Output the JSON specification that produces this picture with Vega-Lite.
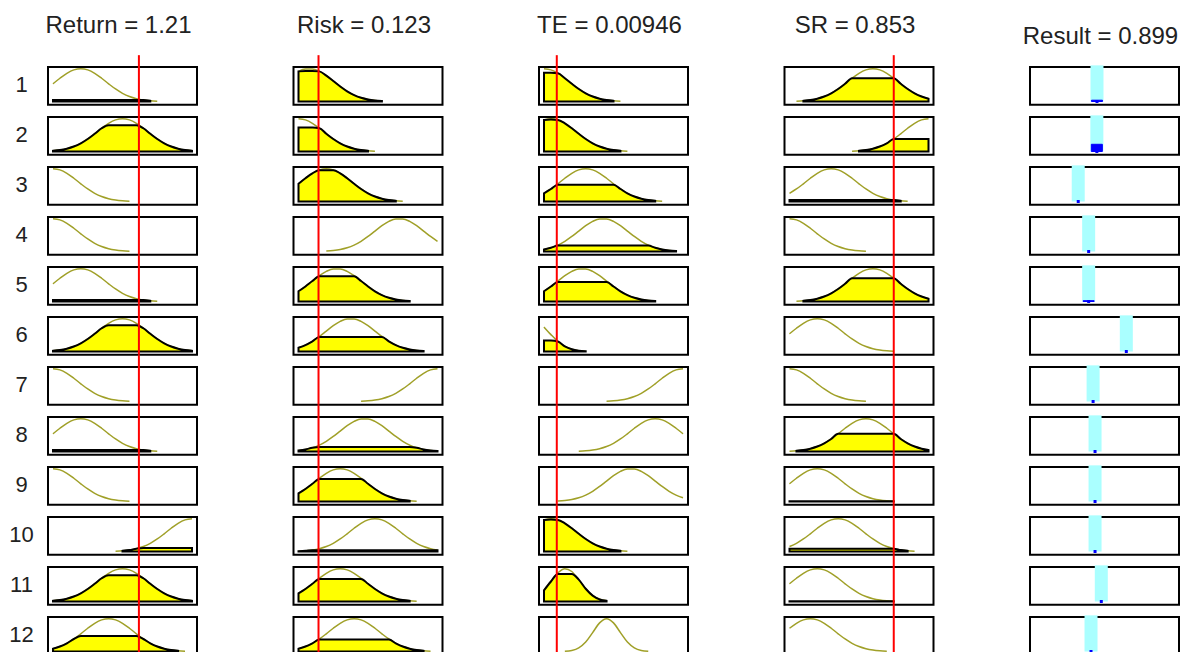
{
"$schema": "https://vega.github.io/schema/vega-lite/v6.json",
"background": "white",
"padding": {"left": 8, "top": 13, "right": 0, "bottom": 0},
"config": {
 "view": {"stroke": "black", "strokeWidth": 2}
},
"datasets": {
"mf": [
{"r":1,"v":"Return = 1.21","in":0.618,"x":[0,0.05,0.1,0.15,0.2,0.25,0.3,0.35,0.4,0.45,0.5,0.55,0.6,0.65,0.7,0.75,0.8,0.85,0.9,0.95,1],"mf":[0.539,0.707,0.857,0.962,1,0.962,0.857,0.707,0.539,0.381,0.249,0.151,0.085,0.044,0.021,0.009],"fill":[0.045,0.045,0.045,0.045,0.045,0.045,0.045,0.045,0.045,0.045,0.045,0.045,0.045,0.044,0.021]},
{"r":2,"v":"Return = 1.21","in":0.618,"x":[0,0.05,0.1,0.15,0.2,0.25,0.3,0.35,0.4,0.45,0.5,0.55,0.6,0.65,0.7,0.75,0.8,0.85,0.9,0.95,1],"mf":[0.021,0.044,0.085,0.151,0.249,0.381,0.539,0.707,0.857,0.962,1,0.962,0.857,0.707,0.539,0.381,0.249,0.151,0.085,0.044,0.021],"fill":[0.021,0.044,0.085,0.151,0.249,0.381,0.539,0.707,0.8,0.8,0.8,0.8,0.8,0.707,0.539,0.381,0.249,0.151,0.085,0.044,0.021]},
{"r":3,"v":"Return = 1.21","in":0.618,"x":[0,0.05,0.1,0.15,0.2,0.25,0.3,0.35,0.4,0.45,0.5,0.55,0.6,0.65,0.7,0.75,0.8,0.85,0.9,0.95,1],"mf":[1,0.962,0.857,0.707,0.539,0.381,0.249,0.151,0.085,0.044,0.021,0.009],"fill":[]},
{"r":4,"v":"Return = 1.21","in":0.618,"x":[0,0.05,0.1,0.15,0.2,0.25,0.3,0.35,0.4,0.45,0.5,0.55,0.6,0.65,0.7,0.75,0.8,0.85,0.9,0.95,1],"mf":[1,0.962,0.857,0.707,0.539,0.381,0.249,0.151,0.085,0.044,0.021,0.009],"fill":[]},
{"r":5,"v":"Return = 1.21","in":0.618,"x":[0,0.05,0.1,0.15,0.2,0.25,0.3,0.35,0.4,0.45,0.5,0.55,0.6,0.65,0.7,0.75,0.8,0.85,0.9,0.95,1],"mf":[0.539,0.707,0.857,0.962,1,0.962,0.857,0.707,0.539,0.381,0.249,0.151,0.085,0.044,0.021,0.009],"fill":[0.045,0.045,0.045,0.045,0.045,0.045,0.045,0.045,0.045,0.045,0.045,0.045,0.045,0.044,0.021]},
{"r":6,"v":"Return = 1.21","in":0.618,"x":[0,0.05,0.1,0.15,0.2,0.25,0.3,0.35,0.4,0.45,0.5,0.55,0.6,0.65,0.7,0.75,0.8,0.85,0.9,0.95,1],"mf":[0.021,0.044,0.085,0.151,0.249,0.381,0.539,0.707,0.857,0.962,1,0.962,0.857,0.707,0.539,0.381,0.249,0.151,0.085,0.044,0.021],"fill":[0.021,0.044,0.085,0.151,0.249,0.381,0.539,0.707,0.8,0.8,0.8,0.8,0.8,0.707,0.539,0.381,0.249,0.151,0.085,0.044,0.021]},
{"r":7,"v":"Return = 1.21","in":0.618,"x":[0,0.05,0.1,0.15,0.2,0.25,0.3,0.35,0.4,0.45,0.5,0.55,0.6,0.65,0.7,0.75,0.8,0.85,0.9,0.95,1],"mf":[1,0.962,0.857,0.707,0.539,0.381,0.249,0.151,0.085,0.044,0.021,0.009],"fill":[]},
{"r":8,"v":"Return = 1.21","in":0.618,"x":[0,0.05,0.1,0.15,0.2,0.25,0.3,0.35,0.4,0.45,0.5,0.55,0.6,0.65,0.7,0.75,0.8,0.85,0.9,0.95,1],"mf":[0.539,0.707,0.857,0.962,1,0.962,0.857,0.707,0.539,0.381,0.249,0.151,0.085,0.044,0.021,0.009],"fill":[0.045,0.045,0.045,0.045,0.045,0.045,0.045,0.045,0.045,0.045,0.045,0.045,0.045,0.044,0.021]},
{"r":9,"v":"Return = 1.21","in":0.618,"x":[0,0.05,0.1,0.15,0.2,0.25,0.3,0.35,0.4,0.45,0.5,0.55,0.6,0.65,0.7,0.75,0.8,0.85,0.9,0.95,1],"mf":[1,0.962,0.857,0.707,0.539,0.381,0.249,0.151,0.085,0.044,0.021,0.009],"fill":[]},
{"r":10,"v":"Return = 1.21","in":0.618,"x":[0,0.05,0.1,0.15,0.2,0.25,0.3,0.35,0.4,0.45,0.5,0.55,0.6,0.65,0.7,0.75,0.8,0.85,0.9,0.95,1],"mf":[null,null,null,null,null,null,null,null,null,0.009,0.021,0.044,0.085,0.151,0.249,0.381,0.539,0.707,0.857,0.962,1],"fill":[null,null,null,null,null,null,null,null,null,null,0.021,0.044,0.085,0.108,0.108,0.108,0.108,0.108,0.108,0.108,0.108]},
{"r":11,"v":"Return = 1.21","in":0.618,"x":[0,0.05,0.1,0.15,0.2,0.25,0.3,0.35,0.4,0.45,0.5,0.55,0.6,0.65,0.7,0.75,0.8,0.85,0.9,0.95,1],"mf":[0.021,0.044,0.085,0.151,0.249,0.381,0.539,0.707,0.857,0.962,1,0.962,0.857,0.707,0.539,0.381,0.249,0.151,0.085,0.044,0.021],"fill":[0.021,0.044,0.085,0.151,0.249,0.381,0.539,0.707,0.8,0.8,0.8,0.8,0.8,0.707,0.539,0.381,0.249,0.151,0.085,0.044,0.021]},
{"r":12,"v":"Return = 1.21","in":0.618,"x":[0,0.05,0.1,0.15,0.2,0.25,0.3,0.35,0.4,0.45,0.5,0.55,0.6,0.65,0.7,0.75,0.8,0.85,0.9,0.95,1],"mf":[0.085,0.151,0.249,0.381,0.539,0.707,0.857,0.962,1,0.962,0.857,0.707,0.539,0.381,0.249,0.151,0.085,0.044,0.021,0.009],"fill":[0.085,0.151,0.249,0.381,0.47,0.47,0.47,0.47,0.47,0.47,0.47,0.47,0.47,0.381,0.249,0.151,0.085,0.044,0.021]},

{"r":1,"v":"Risk = 0.123","in":0.144,"x":[0,0.05,0.1,0.15,0.2,0.25,0.3,0.35,0.4,0.45,0.5,0.55,0.6,0.65,0.7,0.75,0.8,0.85,0.9,0.95,1],"mf":[0.917,0.99,0.99,0.917,0.786,0.623,0.458,0.311,0.196,0.114,0.062,0.031,0.014],"fill":[0.917,0.929,0.929,0.917,0.786,0.623,0.458,0.311,0.196,0.114,0.062,0.031,0.014]},
{"r":2,"v":"Risk = 0.123","in":0.144,"x":[0,0.05,0.1,0.15,0.2,0.25,0.3,0.35,0.4,0.45,0.5,0.55,0.6,0.65,0.7,0.75,0.8,0.85,0.9,0.95,1],"mf":[1,0.962,0.857,0.707,0.539,0.381,0.249,0.151,0.085,0.044,0.021,0.009],"fill":[0.727,0.727,0.727,0.707,0.539,0.381,0.249,0.151,0.085,0.044,0.021]},
{"r":3,"v":"Risk = 0.123","in":0.144,"x":[0,0.05,0.1,0.15,0.2,0.25,0.3,0.35,0.4,0.45,0.5,0.55,0.6,0.65,0.7,0.75,0.8,0.85,0.9,0.95,1],"mf":[0.539,0.707,0.857,0.962,1,0.962,0.857,0.707,0.539,0.381,0.249,0.151,0.085,0.044,0.021,0.009],"fill":[0.539,0.707,0.857,0.953,0.953,0.953,0.857,0.707,0.539,0.381,0.249,0.151,0.085,0.044,0.021]},
{"r":4,"v":"Risk = 0.123","in":0.144,"x":[0,0.05,0.1,0.15,0.2,0.25,0.3,0.35,0.4,0.45,0.5,0.55,0.6,0.65,0.7,0.75,0.8,0.85,0.9,0.95,1],"mf":[null,null,null,null,0.014,0.031,0.062,0.114,0.196,0.311,0.458,0.623,0.786,0.917,0.99,0.99,0.917,0.786,0.623,0.458,0.311],"fill":[]},
{"r":5,"v":"Risk = 0.123","in":0.144,"x":[0,0.05,0.1,0.15,0.2,0.25,0.3,0.35,0.4,0.45,0.5,0.55,0.6,0.65,0.7,0.75,0.8,0.85,0.9,0.95,1],"mf":[0.311,0.458,0.623,0.786,0.917,0.99,0.99,0.917,0.786,0.623,0.458,0.311,0.196,0.114,0.062,0.031,0.014],"fill":[0.311,0.458,0.623,0.767,0.767,0.767,0.767,0.767,0.767,0.623,0.458,0.311,0.196,0.114,0.062,0.031,0.014]},
{"r":6,"v":"Risk = 0.123","in":0.144,"x":[0,0.05,0.1,0.15,0.2,0.25,0.3,0.35,0.4,0.45,0.5,0.55,0.6,0.65,0.7,0.75,0.8,0.85,0.9,0.95,1],"mf":[0.114,0.196,0.311,0.458,0.623,0.786,0.917,0.99,0.99,0.917,0.786,0.623,0.458,0.311,0.196,0.114,0.062,0.031,0.014],"fill":[0.114,0.196,0.311,0.439,0.439,0.439,0.439,0.439,0.439,0.439,0.439,0.439,0.439,0.311,0.196,0.114,0.062,0.031,0.014]},
{"r":7,"v":"Risk = 0.123","in":0.144,"x":[0,0.05,0.1,0.15,0.2,0.25,0.3,0.35,0.4,0.45,0.5,0.55,0.6,0.65,0.7,0.75,0.8,0.85,0.9,0.95,1],"mf":[null,null,null,null,null,null,null,null,null,0.009,0.021,0.044,0.085,0.151,0.249,0.381,0.539,0.707,0.857,0.962,1],"fill":[]},
{"r":8,"v":"Risk = 0.123","in":0.144,"x":[0,0.05,0.1,0.15,0.2,0.25,0.3,0.35,0.4,0.45,0.5,0.55,0.6,0.65,0.7,0.75,0.8,0.85,0.9,0.95,1],"mf":[0.031,0.062,0.114,0.196,0.311,0.458,0.623,0.786,0.917,0.99,0.99,0.917,0.786,0.623,0.458,0.311,0.196,0.114,0.062,0.031,0.014],"fill":[0.031,0.062,0.114,0.14,0.14,0.14,0.14,0.14,0.14,0.14,0.14,0.14,0.14,0.14,0.14,0.14,0.14,0.114,0.062,0.031,0.014]},
{"r":9,"v":"Risk = 0.123","in":0.144,"x":[0,0.05,0.1,0.15,0.2,0.25,0.3,0.35,0.4,0.45,0.5,0.55,0.6,0.65,0.7,0.75,0.8,0.85,0.9,0.95,1],"mf":[0.249,0.381,0.539,0.707,0.857,0.962,1,0.962,0.857,0.707,0.539,0.381,0.249,0.151,0.085,0.044,0.021,0.009],"fill":[0.249,0.381,0.539,0.687,0.687,0.687,0.687,0.687,0.687,0.687,0.539,0.381,0.249,0.151,0.085,0.044,0.021]},
{"r":10,"v":"Risk = 0.123","in":0.144,"x":[0,0.05,0.1,0.15,0.2,0.25,0.3,0.35,0.4,0.45,0.5,0.55,0.6,0.65,0.7,0.75,0.8,0.85,0.9,0.95,1],"mf":[0.009,0.021,0.044,0.085,0.151,0.249,0.381,0.539,0.707,0.857,0.962,1,0.962,0.857,0.707,0.539,0.381,0.249,0.151,0.085,0.044],"fill":[0.009,0.021,0.04,0.04,0.04,0.04,0.04,0.04,0.04,0.04,0.04,0.04,0.04,0.04,0.04,0.04,0.04,0.04,0.04,0.04,0.04]},
{"r":11,"v":"Risk = 0.123","in":0.144,"x":[0,0.05,0.1,0.15,0.2,0.25,0.3,0.35,0.4,0.45,0.5,0.55,0.6,0.65,0.7,0.75,0.8,0.85,0.9,0.95,1],"mf":[0.249,0.381,0.539,0.707,0.857,0.962,1,0.962,0.857,0.707,0.539,0.381,0.249,0.151,0.085,0.044,0.021,0.009],"fill":[0.249,0.381,0.539,0.687,0.687,0.687,0.687,0.687,0.687,0.687,0.539,0.381,0.249,0.151,0.085,0.044,0.021]},
{"r":12,"v":"Risk = 0.123","in":0.144,"x":[0,0.05,0.1,0.15,0.2,0.25,0.3,0.35,0.4,0.45,0.5,0.55,0.6,0.65,0.7,0.75,0.8,0.85,0.9,0.95,1],"mf":[0.085,0.151,0.249,0.381,0.539,0.707,0.857,0.962,1,0.962,0.857,0.707,0.539,0.381,0.249,0.151,0.085,0.044,0.021,0.009],"fill":[0.085,0.151,0.249,0.364,0.364,0.364,0.364,0.364,0.364,0.364,0.364,0.364,0.364,0.364,0.249,0.151,0.085,0.044,0.021]},

{"r":1,"v":"TE = 0.00946","in":0.092,"x":[0,0.05,0.1,0.15,0.2,0.25,0.3,0.35,0.4,0.45,0.5,0.55,0.6,0.65,0.7,0.75,0.8,0.85,0.9,0.95,1],"mf":[1,0.962,0.857,0.707,0.539,0.381,0.249,0.151,0.085,0.044,0.021,0.009],"fill":[0.878,0.878,0.857,0.707,0.539,0.381,0.249,0.151,0.085,0.044,0.021]},
{"r":2,"v":"TE = 0.00946","in":0.092,"x":[0,0.05,0.1,0.15,0.2,0.25,0.3,0.35,0.4,0.45,0.5,0.55,0.6,0.65,0.7,0.75,0.8,0.85,0.9,0.95,1],"mf":[0.962,1,0.962,0.857,0.707,0.539,0.381,0.249,0.151,0.085,0.044,0.021,0.009],"fill":[0.962,0.973,0.962,0.857,0.707,0.539,0.381,0.249,0.151,0.085,0.044,0.021]},
{"r":3,"v":"TE = 0.00946","in":0.092,"x":[0,0.05,0.1,0.15,0.2,0.25,0.3,0.35,0.4,0.45,0.5,0.55,0.6,0.65,0.7,0.75,0.8,0.85,0.9,0.95,1],"mf":[0.249,0.381,0.539,0.707,0.857,0.962,1,0.962,0.857,0.707,0.539,0.381,0.249,0.151,0.085,0.044,0.021,0.009],"fill":[0.249,0.381,0.513,0.513,0.513,0.513,0.513,0.513,0.513,0.513,0.513,0.381,0.249,0.151,0.085,0.044,0.021]},
{"r":4,"v":"TE = 0.00946","in":0.092,"x":[0,0.05,0.1,0.15,0.2,0.25,0.3,0.35,0.4,0.45,0.5,0.55,0.6,0.65,0.7,0.75,0.8,0.85,0.9,0.95,1],"mf":[0.062,0.114,0.196,0.311,0.458,0.623,0.786,0.917,0.99,0.99,0.917,0.786,0.623,0.458,0.311,0.196,0.114,0.062,0.031,0.014],"fill":[0.062,0.114,0.181,0.181,0.181,0.181,0.181,0.181,0.181,0.181,0.181,0.181,0.181,0.181,0.181,0.181,0.114,0.062,0.031,0.014]},
{"r":5,"v":"TE = 0.00946","in":0.092,"x":[0,0.05,0.1,0.15,0.2,0.25,0.3,0.35,0.4,0.45,0.5,0.55,0.6,0.65,0.7,0.75,0.8,0.85,0.9,0.95,1],"mf":[0.311,0.458,0.623,0.786,0.917,0.99,0.99,0.917,0.786,0.623,0.458,0.311,0.196,0.114,0.062,0.031,0.014],"fill":[0.311,0.458,0.596,0.596,0.596,0.596,0.596,0.596,0.596,0.596,0.458,0.311,0.196,0.114,0.062,0.031,0.014]},
{"r":6,"v":"TE = 0.00946","in":0.092,"x":[0,0.05,0.1,0.15,0.2,0.25,0.3,0.35,0.4,0.45,0.5,0.55,0.6,0.65,0.7,0.75,0.8,0.85,0.9,0.95,1],"mf":[0.744,0.514,0.306,0.157,0.07,0.027,0.009],"fill":[0.336,0.336,0.306,0.157,0.07,0.027,0.009]},
{"r":7,"v":"TE = 0.00946","in":0.092,"x":[0,0.05,0.1,0.15,0.2,0.25,0.3,0.35,0.4,0.45,0.5,0.55,0.6,0.65,0.7,0.75,0.8,0.85,0.9,0.95,1],"mf":[null,null,null,null,null,null,null,null,null,0.009,0.021,0.044,0.085,0.151,0.249,0.381,0.539,0.707,0.857,0.962,1],"fill":[]},
{"r":8,"v":"TE = 0.00946","in":0.092,"x":[0,0.05,0.1,0.15,0.2,0.25,0.3,0.35,0.4,0.45,0.5,0.55,0.6,0.65,0.7,0.75,0.8,0.85,0.9,0.95,1],"mf":[null,null,null,null,null,0.009,0.021,0.044,0.085,0.151,0.249,0.381,0.539,0.707,0.857,0.962,1,0.962,0.857,0.707,0.539],"fill":[]},
{"r":9,"v":"TE = 0.00946","in":0.092,"x":[0,0.05,0.1,0.15,0.2,0.25,0.3,0.35,0.4,0.45,0.5,0.55,0.6,0.65,0.7,0.75,0.8,0.85,0.9,0.95,1],"mf":[null,null,0.014,0.031,0.062,0.114,0.196,0.311,0.458,0.623,0.786,0.917,0.99,0.99,0.917,0.786,0.623,0.458,0.311,0.196,0.114],"fill":[]},
{"r":10,"v":"TE = 0.00946","in":0.092,"x":[0,0.05,0.1,0.15,0.2,0.25,0.3,0.35,0.4,0.45,0.5,0.55,0.6,0.65,0.7,0.75,0.8,0.85,0.9,0.95,1],"mf":[0.962,1,0.962,0.857,0.707,0.539,0.381,0.249,0.151,0.085,0.044,0.021,0.009],"fill":[0.962,0.973,0.962,0.857,0.707,0.539,0.381,0.249,0.151,0.085,0.044,0.021]},
{"r":11,"v":"TE = 0.00946","in":0.092,"x":[0,0.05,0.1,0.15,0.2,0.25,0.3,0.35,0.4,0.45,0.5,0.55,0.6,0.65,0.7,0.75,0.8,0.85,0.9,0.95,1],"mf":[0.339,0.609,0.873,0.999,0.913,0.666,0.388,0.18,0.067,0.02],"fill":[0.339,0.609,0.836,0.836,0.836,0.666,0.388,0.18,0.067,0.02]},
{"r":12,"v":"TE = 0.00946","in":0.092,"x":[0,0.05,0.1,0.15,0.2,0.25,0.3,0.35,0.4,0.45,0.5,0.55,0.6,0.65,0.7,0.75,0.8,0.85,0.9,0.95,1],"mf":[null,null,null,0.007,0.031,0.109,0.287,0.575,0.871,1,0.871,0.575,0.287,0.109,0.031,0.007],"fill":[]},

{"r":1,"v":"SR = 0.853","in":0.75,"x":[0,0.05,0.1,0.15,0.2,0.25,0.3,0.35,0.4,0.45,0.5,0.55,0.6,0.65,0.7,0.75,0.8,0.85,0.9,0.95,1],"mf":[null,0.009,0.021,0.044,0.085,0.151,0.249,0.381,0.539,0.707,0.857,0.962,1,0.962,0.857,0.707,0.539,0.381,0.249,0.151,0.085],"fill":[null,null,0.021,0.044,0.085,0.151,0.249,0.381,0.539,0.707,0.707,0.707,0.707,0.707,0.707,0.707,0.539,0.381,0.249,0.151,0.085]},
{"r":2,"v":"SR = 0.853","in":0.75,"x":[0,0.05,0.1,0.15,0.2,0.25,0.3,0.35,0.4,0.45,0.5,0.55,0.6,0.65,0.7,0.75,0.8,0.85,0.9,0.95,1],"mf":[null,null,null,null,null,null,null,null,null,0.009,0.021,0.044,0.085,0.151,0.249,0.381,0.539,0.707,0.857,0.962,1],"fill":[null,null,null,null,null,null,null,null,null,null,0.021,0.044,0.085,0.151,0.249,0.381,0.381,0.381,0.381,0.381,0.381]},
{"r":3,"v":"SR = 0.853","in":0.75,"x":[0,0.05,0.1,0.15,0.2,0.25,0.3,0.35,0.4,0.45,0.5,0.55,0.6,0.65,0.7,0.75,0.8,0.85,0.9,0.95,1],"mf":[0.249,0.381,0.539,0.707,0.857,0.962,1,0.962,0.857,0.707,0.539,0.381,0.249,0.151,0.085,0.044,0.021,0.009],"fill":[0.044,0.044,0.044,0.044,0.044,0.044,0.044,0.044,0.044,0.044,0.044,0.044,0.044,0.044,0.044,0.044,0.021]},
{"r":4,"v":"SR = 0.853","in":0.75,"x":[0,0.05,0.1,0.15,0.2,0.25,0.3,0.35,0.4,0.45,0.5,0.55,0.6,0.65,0.7,0.75,0.8,0.85,0.9,0.95,1],"mf":[1,0.962,0.857,0.707,0.539,0.381,0.249,0.151,0.085,0.044,0.021,0.009],"fill":[]},
{"r":5,"v":"SR = 0.853","in":0.75,"x":[0,0.05,0.1,0.15,0.2,0.25,0.3,0.35,0.4,0.45,0.5,0.55,0.6,0.65,0.7,0.75,0.8,0.85,0.9,0.95,1],"mf":[null,0.009,0.021,0.044,0.085,0.151,0.249,0.381,0.539,0.707,0.857,0.962,1,0.962,0.857,0.707,0.539,0.381,0.249,0.151,0.085],"fill":[null,null,0.021,0.044,0.085,0.151,0.249,0.381,0.539,0.707,0.707,0.707,0.707,0.707,0.707,0.707,0.539,0.381,0.249,0.151,0.085]},
{"r":6,"v":"SR = 0.853","in":0.75,"x":[0,0.05,0.1,0.15,0.2,0.25,0.3,0.35,0.4,0.45,0.5,0.55,0.6,0.65,0.7,0.75,0.8,0.85,0.9,0.95,1],"mf":[0.539,0.707,0.857,0.962,1,0.962,0.857,0.707,0.539,0.381,0.249,0.151,0.085,0.044,0.021,0.009],"fill":[]},
{"r":7,"v":"SR = 0.853","in":0.75,"x":[0,0.05,0.1,0.15,0.2,0.25,0.3,0.35,0.4,0.45,0.5,0.55,0.6,0.65,0.7,0.75,0.8,0.85,0.9,0.95,1],"mf":[1,0.962,0.857,0.707,0.539,0.381,0.249,0.151,0.085,0.044,0.021,0.009],"fill":[]},
{"r":8,"v":"SR = 0.853","in":0.75,"x":[0,0.05,0.1,0.15,0.2,0.25,0.3,0.35,0.4,0.45,0.5,0.55,0.6,0.65,0.7,0.75,0.8,0.85,0.9,0.95,1],"mf":[0.009,0.021,0.044,0.085,0.151,0.249,0.381,0.539,0.707,0.857,0.962,1,0.962,0.857,0.707,0.539,0.381,0.249,0.151,0.085,0.044],"fill":[null,0.021,0.044,0.085,0.151,0.249,0.381,0.539,0.539,0.539,0.539,0.539,0.539,0.539,0.539,0.539,0.381,0.249,0.151,0.085,0.044]},
{"r":9,"v":"SR = 0.853","in":0.75,"x":[0,0.05,0.1,0.15,0.2,0.25,0.3,0.35,0.4,0.45,0.5,0.55,0.6,0.65,0.7,0.75,0.8,0.85,0.9,0.95,1],"mf":[0.539,0.707,0.857,0.962,1,0.962,0.857,0.707,0.539,0.381,0.249,0.151,0.085,0.044,0.021,0.009],"fill":[0.009,0.009,0.009,0.009,0.009,0.009,0.009,0.009,0.009,0.009,0.009,0.009,0.009,0.009,0.009,0.009]},
{"r":10,"v":"SR = 0.853","in":0.75,"x":[0,0.05,0.1,0.15,0.2,0.25,0.3,0.35,0.4,0.45,0.5,0.55,0.6,0.65,0.7,0.75,0.8,0.85,0.9,0.95,1],"mf":[0.151,0.249,0.381,0.539,0.707,0.857,0.962,1,0.962,0.857,0.707,0.539,0.381,0.249,0.151,0.085,0.044,0.021,0.009],"fill":[0.085,0.085,0.085,0.085,0.085,0.085,0.085,0.085,0.085,0.085,0.085,0.085,0.085,0.085,0.085,0.085,0.044,0.021]},
{"r":11,"v":"SR = 0.853","in":0.75,"x":[0,0.05,0.1,0.15,0.2,0.25,0.3,0.35,0.4,0.45,0.5,0.55,0.6,0.65,0.7,0.75,0.8,0.85,0.9,0.95,1],"mf":[0.539,0.707,0.857,0.962,1,0.962,0.857,0.707,0.539,0.381,0.249,0.151,0.085,0.044,0.021,0.009],"fill":[0.009,0.009,0.009,0.009,0.009,0.009,0.009,0.009,0.009,0.009,0.009,0.009,0.009,0.009,0.009,0.009]},
{"r":12,"v":"SR = 0.853","in":0.75,"x":[0,0.05,0.1,0.15,0.2,0.25,0.3,0.35,0.4,0.45,0.5,0.55,0.6,0.65,0.7,0.75,0.8,0.85,0.9,0.95,1],"mf":[0.707,0.857,0.962,1,0.962,0.857,0.707,0.539,0.381,0.249,0.151,0.085,0.044,0.021,0.009],"fill":[]},

{"r":1,"v":"Result = 0.899","pos":0.446,"w":0.04,"x":[0],"mf":[],"fill":[]},
{"r":2,"v":"Result = 0.899","pos":0.445,"w":0.22,"x":[0],"mf":[],"fill":[]},
{"r":3,"v":"Result = 0.899","pos":0.311,"w":0,"x":[0],"mf":[],"fill":[]},
{"r":4,"v":"Result = 0.899","pos":0.386,"w":0,"x":[0],"mf":[],"fill":[]},
{"r":5,"v":"Result = 0.899","pos":0.386,"w":0.025,"x":[0],"mf":[],"fill":[]},
{"r":6,"v":"Result = 0.899","pos":0.657,"w":0,"x":[0],"mf":[],"fill":[]},
{"r":7,"v":"Result = 0.899","pos":0.418,"w":0,"x":[0],"mf":[],"fill":[]},
{"r":8,"v":"Result = 0.899","pos":0.432,"w":0,"x":[0],"mf":[],"fill":[]},
{"r":9,"v":"Result = 0.899","pos":0.432,"w":0,"x":[0],"mf":[],"fill":[]},
{"r":10,"v":"Result = 0.899","pos":0.432,"w":0,"x":[0],"mf":[],"fill":[]},
{"r":11,"v":"Result = 0.899","pos":0.477,"w":0,"x":[0],"mf":[],"fill":[]},
{"r":12,"v":"Result = 0.899","pos":0.403,"w":0,"x":[0],"mf":[],"fill":[]}
]
},
"data": {"name": "mf"},
"transform": [{"flatten": ["x", "mf", "fill"]}],
"facet": {
 "row": {"field": "r", "type": "ordinal", "header": {"title": null, "labels": false}},
 "column": {"field": "v", "type": "nominal", "sort": ["Return = 1.21", "Risk = 0.123", "TE = 0.00946", "SR = 0.853", "Result = 0.899"], "header": {"title": null, "labels": false}}
},
"bounds": "flush",
"spacing": {"row": 12, "column": 96.5},
"spec": {
 "width": 149, "height": 37.8,
 "layer": [
  {"transform": [{"filter": "isValid(datum.mf)"}], "mark": {"type": "line", "color": "#a0a028", "strokeWidth": 1.5, "interpolate": "monotone"},
   "encoding": {"x": {"field": "x", "type": "quantitative", "scale": {"domain": [0, 1], "nice": false, "zero": false}, "axis": null},
                "y": {"field": "mf", "type": "quantitative", "scale": {"domain": [-0.1, 1.05], "nice": false, "zero": false}, "axis": null}}},
  {"transform": [{"filter": "isValid(datum.fill)"}], "mark": {"type": "area", "fill": "#ffff00", "fillOpacity": 1, "stroke": "#000000", "strokeWidth": 2, "interpolate": "monotone"},
   "encoding": {"x": {"field": "x", "type": "quantitative"}, "y": {"field": "fill", "type": "quantitative"}, "y2": {"datum": 0}}},
  {"transform": [{"filter": "datum.x == 0 && isValid(datum.in)"}], "mark": {"type": "rule", "color": "#ff0000", "strokeWidth": 2},
   "encoding": {"x": {"field": "in", "type": "quantitative"}, "y": {"datum": -0.1, "type": "quantitative"}, "y2": {"datum": 1.41}}},
  {"transform": [{"filter": "isValid(datum.pos)"}], "mark": {"type": "rule", "color": "#aaffff", "strokeWidth": 13},
   "encoding": {"x": {"field": "pos", "type": "quantitative"}, "y": {"datum": 0, "type": "quantitative"}, "y2": {"datum": 1.1}}},
  {"transform": [{"filter": "datum.w > 0"}], "mark": {"type": "bar", "color": "#0000ff", "width": 11, "stroke": "#0000ff", "strokeWidth": 1},
   "encoding": {"x": {"field": "pos", "type": "quantitative"}, "y": {"field": "w", "type": "quantitative"}, "y2": {"datum": 0}}},
  {"transform": [{"filter": "isValid(datum.pos)"}], "mark": {"type": "point", "shape": "square", "filled": true, "color": "#0000ff", "size": 9, "opacity": 1},
   "encoding": {"x": {"field": "pos", "type": "quantitative"}, "y": {"datum": 0, "type": "quantitative"}}},
  {"transform": [{"filter": "datum.v == 'Return = 1.21' && datum.x == 0"}], "mark": {"type": "text", "align": "center", "baseline": "middle", "dx": -31.5, "font": "Liberation Sans", "fontSize": 22, "color": "#222222"},
   "encoding": {"x": {"datum": 0, "type": "quantitative"}, "y": {"datum": 0.5, "type": "quantitative"}, "text": {"field": "r", "type": "ordinal"}}},
  {"transform": [{"filter": "datum.r == 1 && datum.x == 0 && isValid(datum.in)"}], "mark": {"type": "text", "align": "center", "baseline": "alphabetic", "dx": -4, "dy": -34, "font": "Liberation Sans", "fontSize": 24, "color": "#222222"},
   "encoding": {"x": {"datum": 0.5, "type": "quantitative"}, "y": {"datum": 1.05, "type": "quantitative"}, "text": {"field": "v", "type": "nominal"}}},
  {"transform": [{"filter": "datum.r == 1 && isValid(datum.pos)"}], "mark": {"type": "text", "align": "center", "baseline": "alphabetic", "dx": -4, "dy": -23, "font": "Liberation Sans", "fontSize": 24, "color": "#222222"},
   "encoding": {"x": {"datum": 0.5, "type": "quantitative"}, "y": {"datum": 1.05, "type": "quantitative"}, "text": {"field": "v", "type": "nominal"}}}
 ]
}
}
